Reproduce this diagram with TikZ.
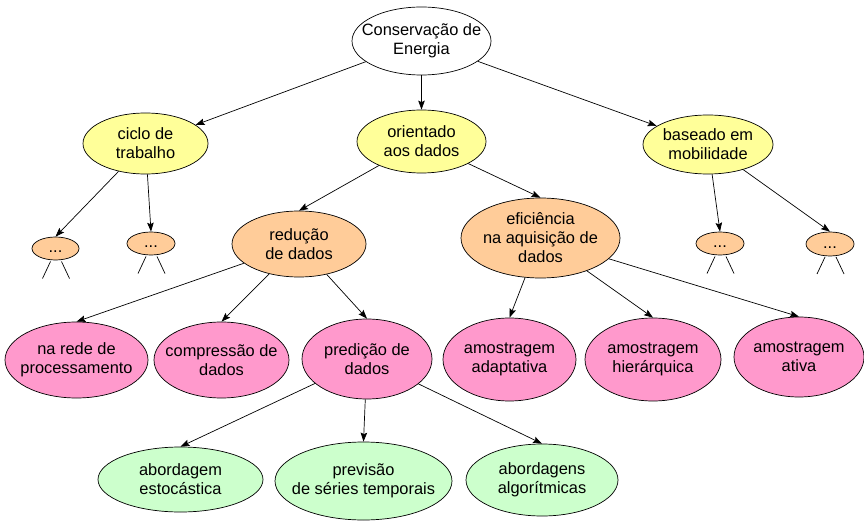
\documentclass[tikz,border=0pt]{standalone}
\usepackage{fontspec}
\setmainfont{Liberation Sans}
\usepackage{tikz}
\usetikzlibrary{shapes.geometric, arrows.meta, calc}
\definecolor{nodeYellow}{HTML}{FFFF99}
\definecolor{nodePeach}{HTML}{FFCC99}
\definecolor{nodePink}{HTML}{FF99CC}
\definecolor{nodeGreen}{HTML}{CCFFCC}

\begin{document}
\begin{tikzpicture}[x=1pt, y=-1pt, >={Stealth[length=9pt, width=6.5pt, inset=1.5pt]},
    every node/.style={font=\fontsize{16.4}{19}\selectfont, align=center},
    bubble/.style={ellipse, draw=black, line width=0.7pt, inner sep=-20pt},
    ellsize/.style 2 args={minimum width=#1, minimum height=#2},
    dots/.style={bubble, fill=nodePeach, inner sep=0pt, text height=8pt, text depth=0pt},
    link/.style={->, line width=0.7pt}]
    \useasboundingbox (0,0) rectangle (864,521);

    % Root
    \node[bubble, fill=white, ellsize={139pt}{68pt}] (root) at (421.5,41) {Conservação de\\Energia};

    % First level
    \node[bubble, fill=nodeYellow, ellsize={125pt}{61pt}] (ciclo) at (145.5,143.5) {ciclo de\\trabalho};
    \node[bubble, fill=nodeYellow, ellsize={129pt}{63pt}] (orient) at (421.5,141.5) {orientado\\aos dados};
    \node[bubble, fill=nodeYellow, ellsize={130pt}{59pt}] (mobil) at (708,144.5) {baseado em\\mobilidade};

    % Second level
    \node[bubble, fill=nodePeach, ellsize={134pt}{66pt}] (reduc) at (299,244) {redução\\de dados};
    \node[bubble, fill=nodePeach, ellsize={159pt}{80pt}] (efic) at (540.5,238) {eficiência\\na aquisição de\\dados};
    \node[dots, ellsize={47pt}{23pt}] (dA) at (55.5,248.5) {...};
    \node[dots, ellsize={48pt}{23pt}] (dB) at (151,243.5) {...};
    \node[dots, ellsize={48pt}{23pt}] (dC) at (720,243.5) {...};
    \node[dots, ellsize={48pt}{24pt}] (dD) at (830,244) {...};

    % Third level
    \node[bubble, fill=nodePink, ellsize={143pt}{76pt}] (rede) at (76.5,360) {na rede de\\processamento};
    \node[bubble, fill=nodePink, ellsize={135pt}{76pt}] (compr) at (221.5,360) {compressão de\\dados};
    \node[bubble, fill=nodePink, ellsize={130pt}{80pt}] (pred) at (367,359) {predição de\\dados};
    \node[bubble, fill=nodePink, ellsize={133pt}{83pt}] (adapt) at (509.5,359.5) {amostragem\\adaptativa};
    \node[bubble, fill=nodePink, ellsize={136pt}{83pt}] (hier) at (653,359.5) {amostragem\\hierárquica};
    \node[bubble, fill=nodePink, ellsize={130pt}{80pt}] (ativa) at (799,357) {amostragem\\ativa};

    % Fourth level
    \node[bubble, fill=nodeGreen, ellsize={165pt}{65pt}] (estoc) at (180.5,479.5) {abordagem\\estocástica};
    \node[bubble, fill=nodeGreen, ellsize={177pt}{78pt}] (prev) at (363.5,481) {previsão\\de séries temporais};
    \node[bubble, fill=nodeGreen, ellsize={152pt}{72pt}] (algor) at (542,480) {abordagens\\algorítmicas};

    % Links
    \draw[link] (root) -- (ciclo);
    \draw[link] (root) -- (orient);
    \draw[link] (root) -- (mobil);
    \draw[link] (ciclo) -- (dA.north);
    \draw[link] (ciclo) -- (dB.north);
    \draw[link] (mobil) -- (dC.north);
    \draw[link] (mobil) -- (dD.north);
    \draw[link] (orient) -- (reduc.north);
    \draw[link] (orient) -- (efic.north);
    \draw[link] (reduc) -- (rede.north);
    \draw[link] (reduc) -- (compr.north);
    \draw[link] (reduc) -- (pred.north);
    \draw[link] (efic) -- (adapt.north);
    \draw[link] (efic) -- (hier.north);
    \draw[link] (efic) -- (ativa.north);
    \draw[link] (pred) -- (estoc.north);
    \draw[link] (pred) -- (prev.north);
    \draw[link] (pred) -- (algor.north);

    % Open branches
    \foreach \d in {dA, dB, dC, dD} {
        \draw[line width=0.7pt] ($(\d)+(-5,13)$) -- ++(-8,17);
        \draw[line width=0.7pt] ($(\d)+(6,13)$) -- ++(8,17);
    }
\end{tikzpicture}
\end{document}
